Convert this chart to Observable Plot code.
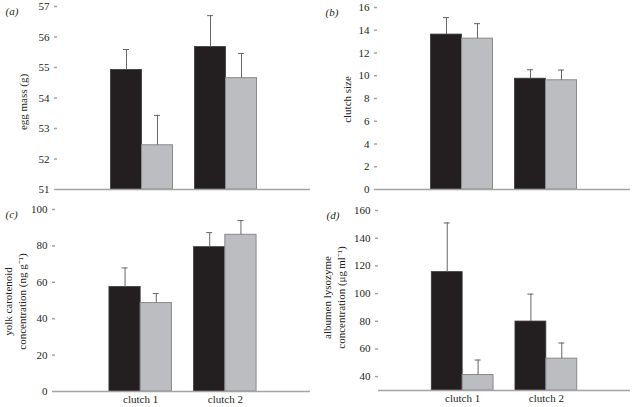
<!DOCTYPE html>
<html>
<head>
<meta charset="utf-8">
<script src="https://cdn.jsdelivr.net/npm/d3@7"></script>
<script src="https://cdn.jsdelivr.net/npm/@observablehq/plot@0.6"></script>
<style>
  html, body { margin: 0; padding: 0; background: #fff; }
  #chart { position: relative; width: 632px; height: 407px; overflow: hidden; }
  #chart > svg { position: absolute; }
</style>
</head>
<body>
<div id="chart"></div>
<script>
// ---- data ----
const clutches = ["clutch 1", "clutch 2"];

// (a) egg mass (g)
const eggMassDark = [54.92, 55.67];
const eggMassDarkSE = [0.67, 1.03];
const eggMassLight = [52.45, 54.65];
const eggMassLightSE = [0.98, 0.81];
const eggMassTicks = [51, 52, 53, 54, 55, 56, 57];

// (b) clutch size
const clutchSizeDark = [13.62, 9.74];
const clutchSizeDarkSE = [1.49, 0.79];
const clutchSizeLight = [13.26, 9.6];
const clutchSizeLightSE = [1.32, 0.9];
const clutchSizeTicks = [0, 2, 4, 6, 8, 10, 12, 14, 16];

// (c) yolk carotenoid concentration (ng g-1)
const carotenoidDark = [57.4, 79.3];
const carotenoidDarkSE = [10.5, 8.0];
const carotenoidLight = [48.6, 86.1];
const carotenoidLightSE = [5.2, 7.8];
const carotenoidTicks = [0, 20, 40, 60, 80, 100];

// (d) albumen lysozyme concentration (ug ml-1)
const lysozymeDark = [115.5, 79.8];
const lysozymeDarkSE = [35.5, 19.8];
const lysozymeLight = [41.2, 53.0];
const lysozymeLightSE = [10.8, 11.3];
const lysozymeTicks = [40, 60, 80, 100, 120, 140, 160];

// ---- styling ----
const FONT = "'Liberation Serif', 'Times New Roman', serif";
const FS = 11;
const DARK = "#231f20";
const LIGHT = "#bcbdc0";
const AXIS = "#a3a3a3";
const ERR = "#666";
const PAD_IN = 0.262, PAD_OUT = 0.637;

function rows(means, ses) {
  return clutches.map((c, i) => ({clutch: c, mean: means[i], top: means[i] + ses[i]}));
}

function panel(cfg) {
  const W = cfg.width - cfg.marginLeft - cfg.marginRight;
  const step = W / (2 - PAD_IN + 2 * PAD_OUT);
  const bw = step * (1 - PAD_IN);
  const half = bw / 2;
  const cap = 6;
  const dark = rows(cfg.dark, cfg.darkSE);
  const light = rows(cfg.light, cfg.lightSE);
  const base = cfg.domain[0];
  const marks = [
    Plot.barY(dark, {x: "clutch", y1: base, y2: "mean", fill: DARK, stroke: "#3a3a3a", strokeWidth: 0.8, insetRight: half}),
    Plot.barY(light, {x: "clutch", y1: base, y2: "mean", fill: LIGHT, stroke: "#8a8a8a", strokeWidth: 1, insetLeft: half}),
    Plot.ruleX(dark, {x: "clutch", y1: "mean", y2: "top", dx: -half / 2, stroke: ERR, strokeWidth: 1}),
    Plot.ruleX(light, {x: "clutch", y1: "mean", y2: "top", dx: half / 2, stroke: ERR, strokeWidth: 1}),
    Plot.tickY(dark, {x: "clutch", y: "top", insetLeft: half / 2 - cap / 2, insetRight: bw - (half / 2 + cap / 2), stroke: ERR, strokeWidth: 1}),
    Plot.tickY(light, {x: "clutch", y: "top", insetLeft: half + half / 2 - cap / 2, insetRight: half / 2 - cap / 2, stroke: ERR, strokeWidth: 1}),
    Plot.ruleY([base], {stroke: AXIS, strokeWidth: 1.5}),
    Plot.axisY({ticks: cfg.ticks, tickSize: 3, tickPadding: 5, line: true, stroke: AXIS, strokeWidth: 1.5, label: null, tickFormat: d => String(d), fontSize: FS, fill: DARK}),
    Plot.text([cfg.tag], {frameAnchor: "top-left", dx: cfg.tagDx, dy: 1, textAnchor: "start", fontStyle: "italic", fontSize: FS, fill: DARK})
  ];
  cfg.ylabel.forEach((line, i) => {
    marks.push(Plot.text([line], {frameAnchor: "left", dx: cfg.labelDx[i], dy: cfg.labelDy, rotate: -90, textAnchor: "middle", fontSize: FS, fill: DARK}));
  });
  if (cfg.xlabels) {
    marks.push(Plot.axisX({tickSize: 0, tickPadding: 4, label: null, fontSize: FS, fill: DARK}));
  }
  const svg = Plot.plot({
    width: cfg.width,
    height: cfg.height,
    marginLeft: cfg.marginLeft,
    marginRight: cfg.marginRight,
    marginTop: cfg.marginTop,
    marginBottom: cfg.marginBottom,
    style: {fontFamily: FONT, fontSize: FS + "px", color: DARK, background: "transparent", overflow: "visible"},
    x: {type: "band", domain: clutches, paddingInner: PAD_IN, paddingOuter: PAD_OUT, round: false, axis: null},
    y: {domain: cfg.domain, axis: null},
    marks
  });
  svg.style.left = cfg.left + "px";
  svg.style.top = cfg.top + "px";
  document.getElementById("chart").appendChild(svg);
}

panel({
  left: 0, top: 0, width: 316, height: 200,
  marginLeft: 57, marginRight: 6, marginTop: 6, marginBottom: 11,
  dark: eggMassDark, darkSE: eggMassDarkSE, light: eggMassLight, lightSE: eggMassLightSE,
  domain: [51, 57], ticks: eggMassTicks,
  ylabel: ["egg mass (g)"], labelDx: [-34], labelDy: 4, tag: "(a)", tagDx: -52, xlabels: false
});
panel({
  left: 320, top: 0, width: 312, height: 200,
  marginLeft: 57, marginRight: 2, marginTop: 7, marginBottom: 11,
  dark: clutchSizeDark, darkSE: clutchSizeDarkSE, light: clutchSizeLight, lightSE: clutchSizeLightSE,
  domain: [0, 16], ticks: clutchSizeTicks,
  ylabel: ["clutch size"], labelDx: [-30], labelDy: 1, tag: "(b)", tagDx: -52, xlabels: false
});
panel({
  left: 0, top: 200, width: 316, height: 207,
  marginLeft: 55, marginRight: 6, marginTop: 9, marginBottom: 16,
  dark: carotenoidDark, darkSE: carotenoidDarkSE, light: carotenoidLight, lightSE: carotenoidLightSE,
  domain: [0, 100], ticks: carotenoidTicks,
  ylabel: ["yolk carotenoid", "concentration (ng g\u207B\u00B9)"], labelDx: [-47, -33], labelDy: 1, tag: "(c)", tagDx: -50, xlabels: true
});
panel({
  left: 320, top: 200, width: 312, height: 207,
  marginLeft: 58, marginRight: 2, marginTop: 10, marginBottom: 17,
  dark: lysozymeDark, darkSE: lysozymeDarkSE, light: lysozymeLight, lightSE: lysozymeLightSE,
  domain: [30, 160], ticks: lysozymeTicks,
  ylabel: ["albumen lysozyme", "concentration (\u03BCg\u2009ml\u207B\u00B9)"], labelDx: [-51, -37], labelDy: -3, tag: "(d)", tagDx: -52, xlabels: true
});
</script>
</body>
</html>
